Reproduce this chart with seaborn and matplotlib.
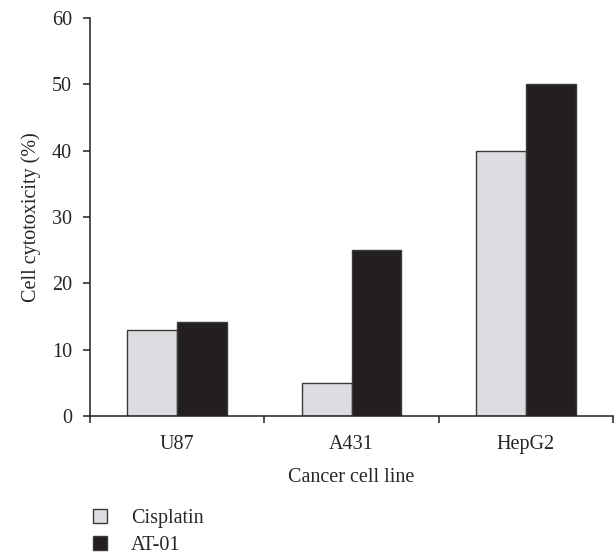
import matplotlib
matplotlib.use("Agg")
import matplotlib.pyplot as plt
import seaborn as sns
import pandas as pd

cell_lines = ["U87", "A431", "HepG2"]
cisplatin = [12.9, 5.0, 40.0]
at01 = [14.2, 25.0, 50.0]
treatments = ["Cisplatin", "AT-01"]
colors = ["#dcdde0", "#231f20"]

df = pd.DataFrame({
    "line": cell_lines * 2,
    "value": cisplatin + at01,
    "treatment": [treatments[0]] * 3 + [treatments[1]] * 3,
})

sns.set_style("white")
plt.rcParams["font.family"] = ["Liberation Serif", "DejaVu Serif"]
fs = 14.5

fig = plt.figure(figsize=(6.14, 5.57), dpi=100)
ax = fig.add_axes([90 / 614, 1 - 416 / 557, 523 / 614, 398 / 557])

sns.barplot(data=df, x="line", y="value", hue="treatment", order=cell_lines,
            hue_order=treatments, palette=colors, width=0.57,
            edgecolor="#3a3a3a", linewidth=1.0, saturation=1, ax=ax)

ax.set_xlim(-0.5, 2.5)
ax.set_ylim(0, 60)
ax.set_yticks(range(0, 61, 10))
ax.set_xticks([-0.5, 0.5, 1.5, 2.5])
ax.set_xticklabels([])
ax.set_xticks([0, 1, 2], minor=True)
ax.set_xticklabels(cell_lines, minor=True)
ax.tick_params(axis="both", which="major", direction="out", length=5,
               width=1.1, color="#231f20", labelsize=fs,
               bottom=True, left=True)
ax.tick_params(axis="x", which="minor", length=0, pad=14, labelsize=fs,
               bottom=True)
ax.tick_params(axis="y", pad=8)

for side in ["top", "right"]:
    ax.spines[side].set_visible(False)
for side in ["left", "bottom"]:
    ax.spines[side].set_color("#231f20")
    ax.spines[side].set_linewidth(1.1)

ax.set_xlabel("Cancer cell line", fontsize=fs, labelpad=10)
ax.set_ylabel("Cell cytotoxicity (%)", fontsize=fs, labelpad=8)

handles, labels = ax.get_legend_handles_labels()
ax.get_legend().remove()
fig.legend(handles, labels, loc="upper left",
           bbox_to_anchor=(93 / 614, 1 - 509 / 557), frameon=False,
           fontsize=fs, handlelength=0.7, handleheight=0.7,
           handletextpad=1.2, labelspacing=0.38, borderpad=0,
           borderaxespad=0)

fig.savefig("out.png", dpi=100)
